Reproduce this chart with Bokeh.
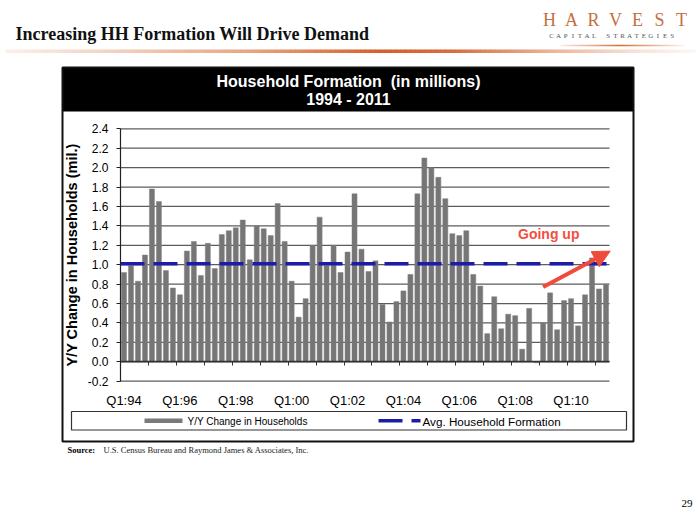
import numpy as np
from bokeh.plotting import figure
from bokeh.models import (Range1d, FixedTicker, Label, BoxAnnotation, Arrow,
                          NormalHead, LinearAxis)
from bokeh.embed import file_html
from bokeh.resources import INLINE

# ---------------- data ----------------
hh_change = [0.92, 0.99, 0.83, 1.10, 1.78, 1.65, 0.94, 0.76, 0.69, 1.14,
             1.24, 0.89, 1.22, 0.96, 1.31, 1.35, 1.38, 1.46, 1.05, 1.40,
             1.37, 1.30, 1.63, 1.24, 0.83, 0.46, 0.65, 1.20, 1.49, 0.99,
             1.20, 0.92, 1.13, 1.73, 1.16, 0.93, 1.04, 0.59, 0.41, 0.62,
             0.73, 0.90, 1.73, 2.10, 2.00, 1.90, 1.68, 1.32, 1.30, 1.35,
             0.90, 0.78, 0.29, 0.67, 0.34, 0.49, 0.475, 0.13, 0.55, -0.01,
             0.40, 0.71, 0.33, 0.63, 0.65, 0.37, 0.69, 1.07, 0.75, 0.80]
avg_formation = 1.01
tick_labels = ["Q1:94", "Q1:96", "Q1:98", "Q1:00", "Q1:02",
               "Q1:04", "Q1:06", "Q1:08", "Q1:10"]
y_ticks = [-0.2, 0.0, 0.2, 0.4, 0.6, 0.8, 1.0, 1.2, 1.4, 1.6, 1.8, 2.0, 2.2, 2.4]

# ---------------- layout constants (page pixels) ----------------
W, H = 700, 525
PLOT_L, PLOT_R = 120.0, 609.0        # pixel span of the bar area
PLOT_T, PLOT_B = 128.3, 380.7        # pixel span of y from 2.4 to -0.2
Y_MIN, Y_MAX = y_ticks[0], y_ticks[-1]

SANS = "Liberation Sans"
SERIF = "Liberation Serif"

n = len(hh_change)
xs = [i + 0.5 for i in range(n)]

# ranges chosen so that the chart area lands where it sits in the slide
ppx = (PLOT_R - PLOT_L) / n
ppy = (PLOT_B - PLOT_T) / (Y_MAX - Y_MIN)
x_range = Range1d(-PLOT_L / ppx, n + (W - PLOT_R) / ppx)
y_range = Range1d(Y_MIN - (H - PLOT_B) / ppy, Y_MAX + PLOT_T / ppy)

p = figure(width=W, height=H, x_range=x_range, y_range=y_range,
           x_axis_type=None, y_axis_type=None,
           output_backend="svg", toolbar_location=None,
           min_border_left=0, min_border_right=0, min_border_top=0,
           min_border_bottom=0)
p.title.visible = False
p.outline_line_color = None
p.background_fill_color = "white"
p.border_fill_color = "white"


def sx(X):
    return X


def sy(Y):
    return H - Y


def hexc(rgb):
    return "#%02x%02x%02x" % tuple(int(round(c)) for c in rgb)


def text(s, X, Y, font=SANS, size="12px", style="normal", color="black",
         align="left", baseline="middle"):
    p.add_layout(Label(x=sx(X), y=sy(Y), x_units="screen", y_units="screen", text=s,
                       text_font=font, text_font_size=size, text_font_style=style,
                       text_color=color, text_align=align, text_baseline=baseline))


def box(X0, Y0, X1, Y1, fill=None, line=None, lw=1.0):
    kw = dict(left=sx(X0), right=sx(X1), top=sy(Y0), bottom=sy(Y1),
              left_units="screen", right_units="screen",
              top_units="screen", bottom_units="screen")
    if fill:
        kw.update(fill_color=fill, fill_alpha=1.0)
    else:
        kw.update(fill_alpha=0.0)
    if line:
        kw.update(line_color=line, line_width=lw, line_alpha=1.0)
    else:
        kw.update(line_alpha=0.0)
    p.add_layout(BoxAnnotation(**kw))


# ---------------- chart ----------------
# horizontal grid lines across the bar area
p.segment(x0=[0] * len(y_ticks), x1=[n] * len(y_ticks), y0=y_ticks, y1=y_ticks,
          line_color="#5c5c5c", line_width=1.2)

# bars
p.vbar(x=xs, top=hh_change, width=0.72, fill_color="#767676", line_color="#808080",
       line_width=0.5)

# y axis (fixed at the left edge of the bar area)
yaxis = LinearAxis(fixed_location=0, ticker=FixedTicker(ticks=y_ticks),
                   bounds=(Y_MIN, Y_MAX))
yaxis.major_label_overrides = {t: f"{t:.1f}" for t in y_ticks}
yaxis.axis_line_color = "#222222"
yaxis.axis_line_width = 1.2
yaxis.major_tick_line_color = "#222222"
yaxis.major_tick_out = 4
yaxis.major_tick_in = 0
yaxis.minor_tick_line_color = None
yaxis.major_label_text_font = SANS
yaxis.major_label_text_font_size = "12px"
yaxis.major_label_text_color = "black"
yaxis.major_label_standoff = 8
yaxis.axis_label = "Y/Y Change in Households (mil.)"
yaxis.axis_label_text_font = SANS
yaxis.axis_label_text_font_size = "14.5px"
yaxis.axis_label_text_font_style = "bold"
yaxis.axis_label_text_color = "black"
yaxis.axis_label_standoff = 5
p.add_layout(yaxis, "left")

# category axis labels (below the -0.2 line)
label_pos = [i * 8 + 0.5 for i in range(len(tick_labels))]
xaxis = LinearAxis(fixed_location=Y_MIN, ticker=FixedTicker(ticks=label_pos))
xaxis.major_label_overrides = {pos: lab for pos, lab in zip(label_pos, tick_labels)}
xaxis.axis_line_color = None
xaxis.major_tick_line_color = None
xaxis.minor_tick_line_color = None
xaxis.major_tick_out = 0
xaxis.major_tick_in = 0
xaxis.major_label_standoff = 12
xaxis.major_label_text_font = SANS
xaxis.major_label_text_font_size = "13px"
xaxis.major_label_text_color = "black"
p.add_layout(xaxis, "below")

# zero line with a tick every four quarters
cat_ticks = list(range(4, n, 4))
zaxis = LinearAxis(fixed_location=0, ticker=FixedTicker(ticks=cat_ticks), bounds=(0, n))
zaxis.axis_line_color = "#333333"
zaxis.axis_line_width = 1.5
zaxis.major_tick_line_color = "#333333"
zaxis.major_tick_out = 4
zaxis.major_tick_in = 0
zaxis.minor_tick_line_color = None
zaxis.major_label_text_font_size = "0px"
zaxis.major_label_text_alpha = 0
p.add_layout(zaxis, "below")

# average line
p.line(x=[0, n], y=[avg_formation, avg_formation], line_color="#1c1ca6",
       line_width=3.5, line_dash="24 9")

# annotation arrow + text
arrow_red = "#f04a3a"
p.add_layout(Arrow(end=NormalHead(size=17, fill_color=arrow_red, line_color=arrow_red),
                   x_start=60.5, y_start=0.77, x_end=70.1, y_end=1.14,
                   line_color=arrow_red, line_width=4))
p.add_layout(Label(x=61.3, y=1.32, text="Going up", text_align="center",
                   text_baseline="middle", text_font=SANS, text_font_size="14px",
                   text_font_style="bold", text_color="#f2503e"))

# ---------------- slide decorations ----------------
# chart panel: header + border
box(62, 67, 633, 111, fill="black")
box(62, 67, 633, 441, line="#111111", lw=2)
text("Household Formation \u00a0(in millions)", 348, 81, size="16px", style="bold",
     color="white", align="center")
text("1994 - 2011", 348, 99, size="16px", style="bold", color="white", align="center")

# legend
box(71, 411, 626, 429.5, line="#333333", lw=1.2)
box(144, 418, 182, 422.5, fill="#7a7a7a")
box(378, 418.5, 402, 422, fill="#1c1ca6")
box(411, 418.5, 420, 422, fill="#1c1ca6")
text("Y/Y Change in Households", 187, 420.5, size="10px")
text("Avg. Household Formation", 422, 420.5, size="11.7px")

# slide title
text("Increasing HH Formation Will Drive Demand", 15, 33, font=SERIF, size="18px",
     style="bold", color="#111111")

# gradient rule under the title
gx = [5, 100, 250, 380, 450, 560, 640, 692]
gc = [(251, 240, 233), (243, 214, 198), (231, 165, 130), (214, 96, 42),
      (216, 108, 62), (236, 186, 160), (248, 228, 218), (253, 246, 242)]
step = 5
for X in range(5, 692, step):
    c = [np.interp(X + step / 2, gx, [col[k] for col in gc]) for k in range(3)]
    box(X, 49, X + step + 0.6, 52.5, fill=hexc(c))

# logo
for i, ch in enumerate("HARVEST"):
    text(ch, 549 + i * 22, 19.5, font=SERIF, size="18px", color="#c4703e",
         align="center")
for i, ch in enumerate("CAPITAL STRATEGIES"):
    text(ch, 551 + i * 7.1, 35, font=SERIF, size="7px", color="#555555",
         align="center")
lx = [560, 620, 682]
lc = [(252, 235, 225), (214, 110, 50), (252, 240, 232)]
for X in range(560, 682, 3):
    c = [np.interp(X + 1.5, lx, [col[k] for col in lc]) for k in range(3)]
    box(X, 44.2, X + 3.4, 45.8, fill=hexc(c))

# source + page number
text("Source:", 67, 449, font=SERIF, size="8.5px", style="bold")
text("U.S. Census Bureau and Raymond James & Associates, Inc.", 103, 449,
     font=SERIF, size="8.5px", color="#222222")
text("29", 692, 503, font=SERIF, size="11px", align="right")

open("out.html", "w").write(file_html(p, INLINE))
